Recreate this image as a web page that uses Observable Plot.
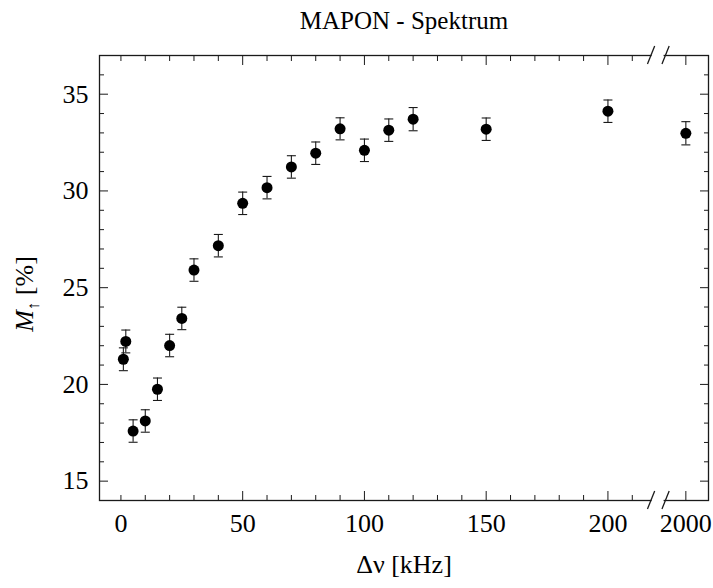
<!DOCTYPE html>
<html><head><meta charset="utf-8">
<script src="https://cdn.jsdelivr.net/npm/d3@7"></script>
<script src="https://cdn.jsdelivr.net/npm/@observablehq/plot@0.6"></script>
<style>body{margin:0;background:#fff} svg{display:block} svg text{font-family:"Liberation Serif","Times New Roman",serif}</style>
</head><body><div id="chart"></div>
<script>
// Frequency detuning Δν [kHz]
const deltaNu = [1, 2, 5, 10, 15, 20, 25, 30, 40, 50, 60, 70, 80, 90, 100, 110, 120, 150, 200, 2000];
// M↑ [%]
const mUp = [21.3, 22.22, 17.59, 18.11, 19.75, 22.01, 23.41, 25.91, 27.17, 29.36, 30.17, 31.24, 31.95, 33.21, 32.1, 33.14, 33.71, 33.19, 34.12, 32.98];
// error bar half-widths
const mErr = [0.59, 0.59, 0.58, 0.58, 0.58, 0.58, 0.58, 0.58, 0.58, 0.58, 0.58, 0.58, 0.58, 0.57, 0.58, 0.58, 0.6, 0.58, 0.58, 0.6];

const xLabels = [0, 50, 100, 150, 200, 2000];
const xMajor = [50, 100, 150, 200, 2000];
const xMinor = [0, 10, 20, 30, 40, 60, 70, 80, 90, 110, 120, 130, 140, 160, 170, 180, 190, 210];
const yMajor = [15, 20, 25, 30, 35];
const yMinor = [16, 17, 18, 19, 21, 22, 23, 24, 26, 27, 28, 29, 31, 32, 33, 34, 36];

const title = "MAPON - Spektrum";
const xTitle = "Δν [kHz]";

// broken axis: values above the break are shifted so 2000 sits just after 210
const breakAxisAt = 221;
const shift = 1768;
const xPos = v => v > 1000 ? v - shift : v;

const data = deltaNu.map((d, i) => ({x: xPos(d), y: mUp[i], lo: mUp[i] - mErr[i], hi: mUp[i] + mErr[i]}));

const cap = {draw(ctx, size) { const w = Math.sqrt(size / Math.PI); ctx.moveTo(-w, 0); ctx.lineTo(w, 0); }};
const serif = "Liberation Serif";
const ink = "#1a1a1a";

function breakMark(at) {
  return (index, {x}, values, {width, height, marginTop, marginBottom}) => {
    const cx = x(at);
    const g = d3.create("svg:g");
    for (const cy of [marginTop, height - marginBottom]) {
      g.append("rect").attr("x", cx - 7).attr("y", cy - 2).attr("width", 12).attr("height", 4).attr("fill", "white");
      for (const dx of [-7.5, 7]) {
        g.append("line")
          .attr("x1", cx + dx - 3.6).attr("y1", cy + 9)
          .attr("x2", cx + dx + 3.6).attr("y2", cy - 9)
          .attr("stroke", ink).attr("stroke-width", 1.3);
      }
    }
    return g.node();
  };
}

const xLabelPos = xLabels.map(xPos);

const plot = Plot.plot({
  width: 713, height: 588,
  marginTop: 55, marginBottom: 88, marginLeft: 99, marginRight: 5,
  style: {fontFamily: serif, background: "white", color: "#000"},
  x: {domain: [-8.8, 241.3], label: null, axis: null},
  y: {domain: [14, 37], label: null, axis: null},
  marks: [
    Plot.frame({stroke: ink, strokeWidth: 1.3}),
    // inward ticks on all sides
    Plot.axisX(xMajor.map(xPos), {anchor: "bottom", tickSize: -9, tickFormat: () => "", label: null, stroke: ink}),
    Plot.axisX(xMinor.map(xPos), {anchor: "bottom", tickSize: -5, tickFormat: () => "", label: null, stroke: ink}),
    Plot.axisX(xMajor.map(xPos), {anchor: "top", tickSize: -9, tickFormat: () => "", label: null, stroke: ink}),
    Plot.axisX(xMinor.map(xPos), {anchor: "top", tickSize: -5, tickFormat: () => "", label: null, stroke: ink}),
    Plot.axisY(yMajor, {anchor: "left", tickSize: -9, tickFormat: () => "", label: null, stroke: ink}),
    Plot.axisY(yMinor, {anchor: "left", tickSize: -5, tickFormat: () => "", label: null, stroke: ink}),
    Plot.axisY(yMajor, {anchor: "right", tickSize: -9, tickFormat: () => "", label: null, stroke: ink}),
    Plot.axisY(yMinor, {anchor: "right", tickSize: -5, tickFormat: () => "", label: null, stroke: ink}),
    // tick labels
    Plot.axisX(xLabelPos, {anchor: "bottom", tickSize: 0, tickPadding: 13, fontSize: 26, fontFamily: serif, fill: "#000", label: null,
      tickFormat: v => String(xLabels[xLabelPos.indexOf(v)])}),
    Plot.axisY(yMajor, {anchor: "left", tickSize: 0, tickPadding: 11, fontSize: 26, fontFamily: serif, fill: "#000", label: null}),
    breakMark(breakAxisAt),
    // error bars
    Plot.ruleX(data, {x: "x", y1: "lo", y2: "hi", stroke: ink, strokeWidth: 1.1}),
    Plot.dot(data, {x: "x", y: "lo", symbol: cap, r: 4.5, stroke: ink, strokeWidth: 1.1}),
    Plot.dot(data, {x: "x", y: "hi", symbol: cap, r: 4.5, stroke: ink, strokeWidth: 1.1}),
    Plot.dot(data, {x: "x", y: "y", r: 5.5, fill: "#000", stroke: null}),
    // titles
    Plot.text([title], {frameAnchor: "top", dy: -44, fontSize: 25, fontFamily: serif, fill: "#000"}),
    Plot.text([xTitle], {frameAnchor: "bottom", dy: 72, fontSize: 26, fontFamily: serif, fill: "#000"})
  ]
});

// y-axis title with italic M and subscript arrow
const yt = d3.select(plot).append("text")
  .attr("transform", "translate(33,294) rotate(-90)")
  .attr("text-anchor", "middle")
  .attr("font-family", serif)
  .attr("font-size", 26)
  .attr("fill", "#000");
yt.append("tspan").attr("font-style", "italic").text("M");
yt.append("tspan").attr("font-size", 17).attr("dy", 6).text("↑");
yt.append("tspan").attr("dy", -6).text(" [%]");

document.getElementById("chart").appendChild(plot);
</script>
</body></html>
